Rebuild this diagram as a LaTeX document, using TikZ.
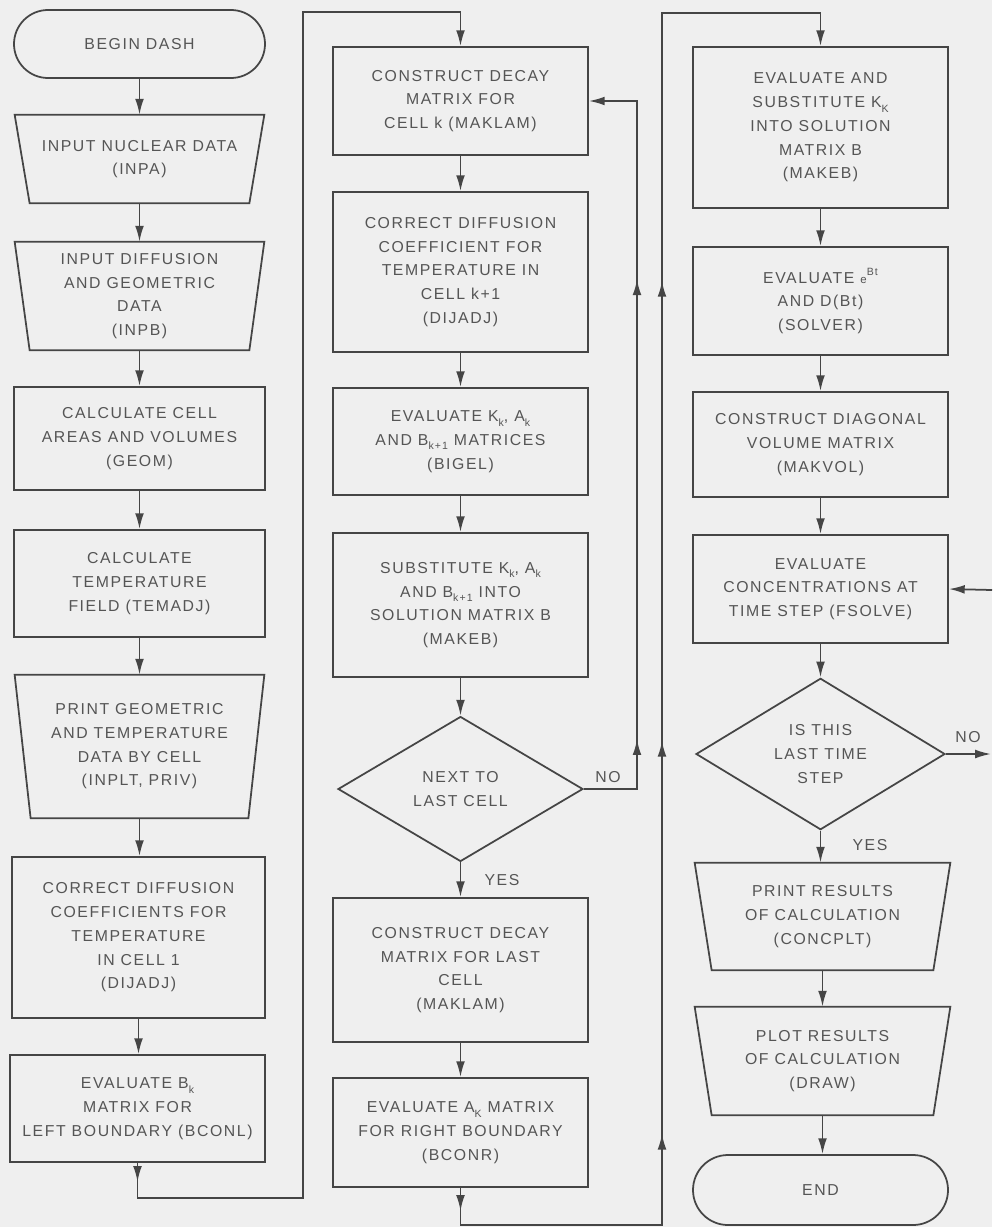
\documentclass[tikz,border=0pt]{standalone}
\usepackage{fontspec}
\setmainfont{Liberation Sans}[LetterSpace=10]
\usetikzlibrary{shapes.geometric,arrows.meta,decorations.markings,calc}
\definecolor{bg}{HTML}{EFEFEF}
\definecolor{ln}{HTML}{454545}
\definecolor{tx}{HTML}{555555}
\tikzset{mytip/.tip={Latex[length=9pt,width=5pt]}}
\newcommand\sbs[1]{\raisebox{-0.55ex}{\fontsize{6}{6}\selectfont #1}}
\newcommand\sps[1]{\raisebox{0.9ex}{\fontsize{6}{6}\selectfont #1}}
\newcommand\bx[7][box]{\node[#1, minimum width={(#5-#3)*0.02cm}, minimum height={(#6-#4)*0.02cm}] (#2) at ({(#3+#5)/2},{(#4+#6)/2}) {#7};}
\newcommand\trapline[2]{\draw[ln, line width=1pt] (#1.north west) -- (#1.north east) -- ($(#1.south east)+(-#2,0)$) -- ($(#1.south west)+(#2,0)$) -- cycle;}
\newcommand\va[2]{\draw[arr] (#1.south) -- (#1.south |- #2.north);}
\begin{document}
\begin{tikzpicture}[x=0.02cm,y=-0.02cm,
  every node/.style={text=tx, font=\fontsize{9}{13.5}\selectfont, align=center, inner sep=0pt},
  box/.style={draw=ln, line width=1pt, rectangle},
  trap/.style={draw=none, rectangle},
  dia/.style={draw=ln, line width=1pt, diamond},
  arr/.style={draw=ln, line width=1pt, -mytip},
  lbl/.style={text=tx, font=\fontsize{9}{10}\selectfont}
]
\fill[bg] (0,0) rectangle (992,1227);
\useasboundingbox (0,0) rectangle (992,1227);

% column 1
\bx[box,rounded corners=0.68cm]{begin}{14}{10}{265}{78}{BEGIN DASH}
\bx[trap]{inpa}{15}{115}{264}{203}{INPUT NUCLEAR DATA\\(INPA)}
\trapline{inpa}{15}
\bx[trap]{inpb}{15}{242}{264}{350}{INPUT DIFFUSION\\AND GEOMETRIC\\DATA\\(INPB)}
\trapline{inpb}{15}
\bx{geom}{14}{387}{265}{490}{CALCULATE CELL\\AREAS AND VOLUMES\\(GEOM)}
\bx{temadj}{14}{530}{265}{637}{CALCULATE\\TEMPERATURE\\FIELD (TEMADJ)}
\bx[trap]{inplt}{15}{675}{264}{818}{PRINT GEOMETRIC\\AND TEMPERATURE\\DATA BY CELL\\(INPLT, PRIV)}
\trapline{inplt}{16}
\bx{dijadj1}{12}{857}{265}{1018}{CORRECT DIFFUSION\\COEFFICIENTS FOR\\TEMPERATURE\\IN CELL 1\\(DIJADJ)}
\bx{bconl}{10}{1055}{265}{1162}{EVALUATE B\sbs{k}\\MATRIX FOR\\LEFT BOUNDARY (BCONL)}

% column 2
\bx{maklam}{333}{47}{588}{155}{CONSTRUCT DECAY\\MATRIX FOR\\CELL k (MAKLAM)}
\bx{dijadj}{333}{192}{588}{352}{CORRECT DIFFUSION\\COEFFICIENT FOR\\TEMPERATURE IN\\CELL k+1\\(DIJADJ)}
\bx{bigel}{333}{388}{588}{495}{EVALUATE K\sbs{k}, A\sbs{k}\\AND B\sbs{k+1} MATRICES\\(BIGEL)}
\bx{makeb}{333}{533}{588}{677}{SUBSTITUTE K\sbs{k}, A\sbs{k}\\AND B\sbs{k+1} INTO\\SOLUTION MATRIX B\\(MAKEB)}
\node[dia, minimum width=4.9cm, minimum height=2.9cm] (next) at (460.5,789) {NEXT TO\\LAST CELL};
\bx{maklam2}{333}{898}{588}{1042}{CONSTRUCT DECAY\\MATRIX FOR LAST\\CELL\\(MAKLAM)}
\bx{bconr}{333}{1078}{588}{1187}{EVALUATE A\sbs{K} MATRIX\\FOR RIGHT BOUNDARY\\(BCONR)}

% column 3
\bx{makeb2}{693}{47}{948}{208}{EVALUATE AND\\SUBSTITUTE K\sbs{K}\\INTO SOLUTION\\MATRIX B\\(MAKEB)}
\bx{solver}{693}{247}{948}{355}{EVALUATE {\fontsize{6.5}{6}\selectfont e}\sps{Bt}\\AND D(Bt)\\(SOLVER)}
\bx{makvol}{693}{392}{948}{497}{CONSTRUCT DIAGONAL\\VOLUME MATRIX\\(MAKVOL)}
\bx{fsolve}{693}{535}{948}{643}{EVALUATE\\CONCENTRATIONS AT\\TIME STEP (FSOLVE)}
\node[dia, minimum width=4.98cm, minimum height=2.84cm] (last) at (820.5,754) {IS THIS\\LAST TIME\\STEP};
\bx[trap]{conc}{695}{863}{950}{970}{PRINT RESULTS\\OF CALCULATION\\(CONCPLT)}
\trapline{conc}{17}
\bx[trap]{plot}{695}{1007}{950}{1115}{PLOT RESULTS\\OF CALCULATION\\(DRAW)}
\trapline{plot}{17}
\bx[box,rounded corners=0.7cm]{end}{693}{1155}{948}{1225}{END}

% vertical arrows
\va{begin}{inpa}
\va{inpa}{inpb}
\va{inpb}{geom}
\va{geom}{temadj}
\va{temadj}{inplt}
\va{inplt}{dijadj1}
\va{dijadj1}{bconl}
\va{maklam}{dijadj}
\va{dijadj}{bigel}
\va{bigel}{makeb}
\va{makeb}{next}
\va{next}{maklam2}
\va{maklam2}{bconr}
\va{makeb2}{solver}
\va{solver}{makvol}
\va{makvol}{fsolve}
\va{fsolve}{last}
\va{last}{conc}
\va{conc}{plot}
\va{plot}{end}

% loop connectors
\coordinate (a1) at (303,1198);
\coordinate (a2) at (303,12);
\draw[arr, postaction={decorate}, decoration={markings, mark=at position 0.38cm with {\arrow{mytip}}}]
  (bconl.south) |- (a1) -- (a2) -| (maklam.north);

\coordinate (n1) at (637,101);
\draw[arr, postaction={decorate}, decoration={markings,
    mark=at position 2.06cm with {\arrow{mytip}},
    mark=at position 11.26cm with {\arrow{mytip}}}]
  (next.east) -| (n1) -- (maklam.east);

\coordinate (b1) at (662,1225);
\coordinate (b2) at (662,13);
\draw[arr, postaction={decorate}, decoration={markings,
    mark=at position 0.46cm with {\arrow{mytip}},
    mark=at position 6.6cm with {\arrow{mytip}},
    mark=at position 14.46cm with {\arrow{mytip}},
    mark=at position 23.66cm with {\arrow{mytip}}}]
  (bconr.south) |- (b1) -- (b2) -| (makeb2.north);

\coordinate (o1) at (991,754);
\draw[arr] (last.east) -- (o1);
\coordinate (i1) at (992,590);
\draw[arr] (i1) -- (fsolve.east);

% labels
\node[lbl] (no1) at (608,777) {NO};
\node[lbl] (yes1) at (502,880) {YES};
\node[lbl] (no2) at (968,737) {NO};
\node[lbl] (yes2) at (870,845) {YES};
\end{tikzpicture}
\end{document}
